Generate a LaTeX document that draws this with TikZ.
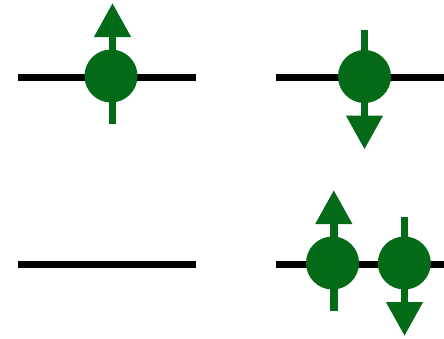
\documentclass[tikz,border=0pt]{standalone}
\usetikzlibrary{arrows.meta}
\definecolor{spin}{RGB}{3,106,24}
\begin{document}
\begin{tikzpicture}[x=1pt,y=-1pt,
  level/.style={line width=7pt,black},
  electron/.style={circle,fill=spin,minimum size=53pt,inner sep=0pt},
  spinarrow/.style={draw=spin,line width=7.5pt,
    -{Triangle[length=34pt,width=35pt,fill=spin]}}]
\useasboundingbox (0,0) rectangle (444,338);
% energy levels
\coordinate (l1a) at (18,77.5);  \coordinate (l1b) at (196,77.5);
\coordinate (l2a) at (276,77.5); \coordinate (l2b) at (444,77.5);
\coordinate (l3a) at (18,264);   \coordinate (l3b) at (196,264);
\coordinate (l4a) at (276,264);  \coordinate (l4b) at (444,264);
\draw[level] (l1a) -- (l1b);
\draw[level] (l2a) -- (l2b);
\draw[level] (l3a) -- (l3b);
\draw[level] (l4a) -- (l4b);
% electrons
\node[electron] (e1) at (111,76) {};
\node[electron] (e2) at (364.5,76.5) {};
\node[electron] (e3) at (332.5,263) {};
\node[electron] (e4) at (404.3,263) {};
% spin arrows
\coordinate (s1a) at (112.5,124);  \coordinate (s1b) at (112.5,3);
\coordinate (s2a) at (364.5,30);   \coordinate (s2b) at (364.5,149.5);
\coordinate (s3a) at (333.8,311);  \coordinate (s3b) at (333.8,190);
\coordinate (s4a) at (404.5,217);  \coordinate (s4b) at (404.5,336);
\draw[spinarrow] (s1a) -- (s1b);
\draw[spinarrow] (s2a) -- (s2b);
\draw[spinarrow] (s3a) -- (s3b);
\draw[spinarrow] (s4a) -- (s4b);
\end{tikzpicture}
\end{document}
